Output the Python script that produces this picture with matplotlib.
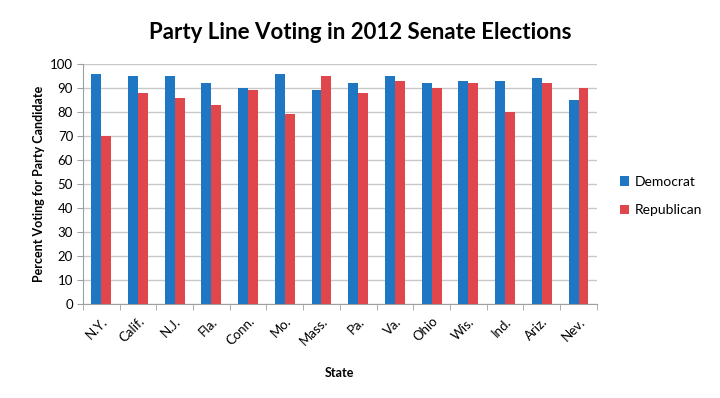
import matplotlib
matplotlib.use("Agg")
import matplotlib.pyplot as plt
import numpy as np

plt.rcParams['font.family'] = ['Lato', 'DejaVu Sans']

states = ["N.Y.", "Calif.", "N.J.", "Fla.", "Conn.", "Mo.", "Mass.", "Pa.", "Va.", "Ohio", "Wis.", "Ind.", "Ariz.", "Nev."]
democrat = [96, 95, 95, 92, 90, 96, 89, 92, 95, 92, 93, 93, 94, 85]
republican = [70, 88, 86, 83, 89, 79, 95, 88, 93, 90, 92, 80, 92, 90]
yticks = list(range(0, 101, 10))

fig = plt.figure(figsize=(7.2, 3.98), dpi=100)
ax = fig.add_axes([0.115, 0.236, 0.714, 0.603])

x = np.arange(len(states))
w = 0.27
ax.bar(x - w/2, democrat, w, color="#1f77c4", label="Democrat", zorder=3)
ax.bar(x + w/2, republican, w, color="#e0474c", label="Republican", zorder=3)

ax.set_xlim(-0.5, len(states) - 0.5)
ax.set_ylim(0, 100)
ax.set_yticks(yticks)
ax.yaxis.grid(True, color="#c8c8c8", linewidth=1, zorder=0)
ax.set_xticks(x)
ax.set_xticklabels(states, rotation=45, ha="right", rotation_mode="anchor", fontsize=9.5)
ax.tick_params(axis='x', length=0, pad=8)
ax.set_xticks(np.arange(-0.5, len(states), 1), minor=True)
ax.tick_params(axis='x', which='minor', length=4, color="#a0a0a0", direction='out')
ax.tick_params(axis='y', length=4, color="#a0a0a0", labelsize=9.5, pad=3)

for s in ["top", "right"]:
    ax.spines[s].set_visible(False)
for s in ["left", "bottom"]:
    ax.spines[s].set_color("#a0a0a0")

ax.set_ylabel("Percent Voting for Party Candidate", fontsize=9, fontweight="bold")
ax.set_xlabel("State", fontsize=9, fontweight="bold", labelpad=14)

fig.suptitle("Party Line Voting in 2012 Senate Elections", fontsize=16, fontweight="bold", y=0.945)

ax.legend(loc="center left", bbox_to_anchor=(1.02, 0.45), frameon=False, fontsize=10,
          handlelength=0.7, handleheight=0.7, labelspacing=1.2, handletextpad=0.4)

fig.savefig("out.png", dpi=100)
